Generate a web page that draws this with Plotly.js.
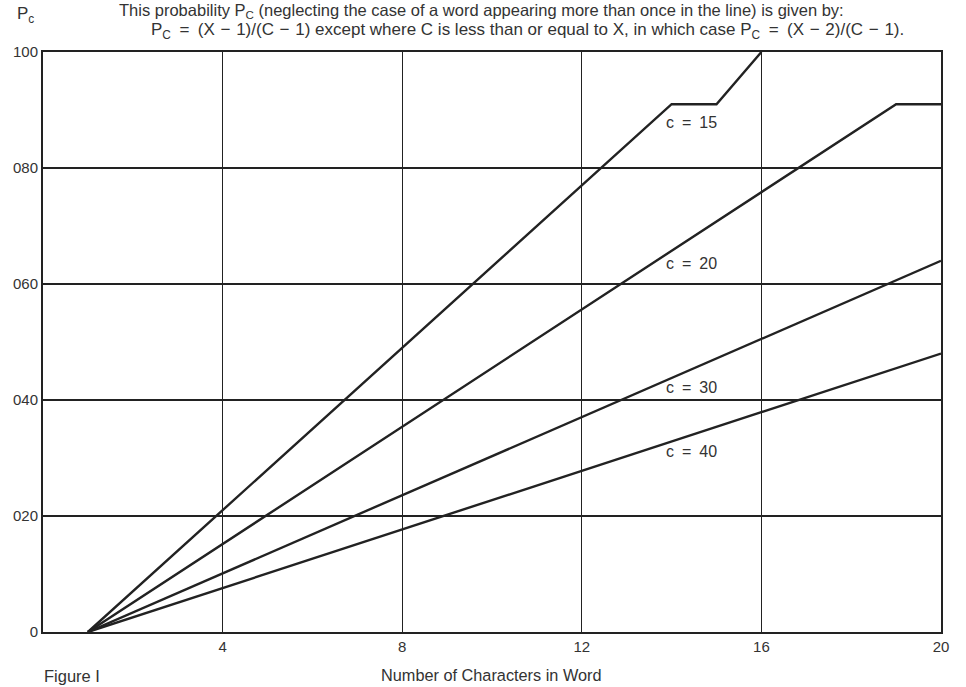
<!DOCTYPE html>
<html><head><meta charset="utf-8">
<script src="https://cdn.plot.ly/plotly-3.0.1.min.js"></script>
<style>html,body{margin:0;padding:0;background:#fff;}#chart{width:966px;height:687px;}</style>
</head><body><div id="chart"></div>
<script>
// Vertices (X = number of characters, Pc in %)
const c15X = [1, 14, 15, 16];
const c15Y = [0, 91, 91, 100];
const c20X = [1, 19, 20];
const c20Y = [0, 91, 91];
const c30X = [1, 20];
const c30Y = [0, 64];
const c40X = [1, 20];
const c40Y = [0, 48];
const seriesNames = ['c\u2002=\u200215', 'c\u2002=\u200220', 'c\u2002=\u200230', 'c\u2002=\u200240'];
const labelY = [87.8, 63.5, 42.2, 31.2];
const labelX = 14.45;
const yTickVals = [0, 20, 40, 60, 80, 100];
const yTickText = ['0', '020', '040', '060', '080', '100'];
const xTickVals = [4, 8, 12, 16, 20];

const FONT = 'Liberation Sans, Arial, Helvetica, sans-serif';
const INK = '#222';
const TXT = '#333';

const xs = [c15X, c20X, c30X, c40X];
const ys = [c15Y, c20Y, c30Y, c40Y];
const traces = xs.map((x, i) => ({
  x: x, y: ys[i], type: 'scatter', mode: 'lines', name: seriesNames[i],
  line: {color: INK, width: 2.4}, hoverinfo: 'skip'
}));

const annotations = seriesNames.map((n, i) => ({
  x: labelX, y: labelY[i], xref: 'x', yref: 'y', text: n, showarrow: false,
  font: {family: FONT, size: 16, color: TXT}, xanchor: 'center', yanchor: 'middle'
}));
const sp = '\u2002';   // around "="
const sm = '\u2004';   // around "−"
annotations.push(
  {x: 25, y: 15, xref: 'paper', yref: 'paper', xanchor: 'center', yanchor: 'middle',
   text: 'P<sub>c</sub>', showarrow: false, font: {family: FONT, size: 17, color: TXT}},
  {x: 481, y: 11, xref: 'paper', yref: 'paper', xanchor: 'center', yanchor: 'middle',
   text: 'This probability P<sub>C</sub> (neglecting the case of a word appearing more than once in the line) is given by:',
   showarrow: false, font: {family: FONT, size: 16.5, color: TXT}},
  {x: 527, y: 31, xref: 'paper', yref: 'paper', xanchor: 'center', yanchor: 'middle',
   text: 'P<sub>C</sub>' + sp + '=' + sp + '(X' + sm + '−' + sm + '1)/(C' + sm + '−' + sm + '1) except where C is less than or equal to X, in which case P<sub>C</sub>' + sp + '=' + sp + '(X' + sm + '−' + sm + '2)/(C' + sm + '−' + sm + '1).',
   showarrow: false, font: {family: FONT, size: 17, color: TXT}},
  {x: 491, y: 675, xref: 'paper', yref: 'paper', xanchor: 'center', yanchor: 'middle',
   text: 'Number of Characters in Word', showarrow: false, font: {family: FONT, size: 16.3, color: TXT}},
  {x: 42, y: 676, xref: 'paper', yref: 'paper', xanchor: 'left', yanchor: 'middle',
   text: 'Figure I', showarrow: false, font: {family: FONT, size: 16.5, color: TXT}}
);
// convert pixel-positioned annotations to paper coords
const L = 43, R = 25, T = 52, B = 55, W = 966, H = 687;
annotations.forEach(a => {
  if (a.xref === 'paper') {
    a.x = (a.x - L) / (W - L - R);
    a.y = 1 - (a.y - T) / (H - T - B);
  }
});

const layout = {
  width: W, height: H,
  margin: {l: L, r: R, t: T, b: B, pad: 0},
  paper_bgcolor: '#fff', plot_bgcolor: '#fff',
  showlegend: false,
  font: {family: FONT, size: 15, color: TXT},
  xaxis: {
    range: [0, 20], tickvals: xTickVals, ticks: '', showgrid: true,
    gridcolor: INK, gridwidth: 1.2, zeroline: false, showline: true,
    linecolor: INK, linewidth: 2, mirror: true, fixedrange: true,
    tickfont: {family: FONT, size: 15, color: TXT}
  },
  yaxis: {
    range: [0, 100], tickvals: yTickVals, ticktext: yTickText, ticks: '',
    showgrid: true, gridcolor: INK, gridwidth: 1.2, zeroline: false,
    showline: true, linecolor: INK, linewidth: 2, mirror: true, fixedrange: true,
    tickfont: {family: FONT, size: 15, color: TXT}
  },
  annotations: annotations
};
Plotly.newPlot('chart', traces, layout, {displayModeBar: false, staticPlot: true});
</script></body></html>
